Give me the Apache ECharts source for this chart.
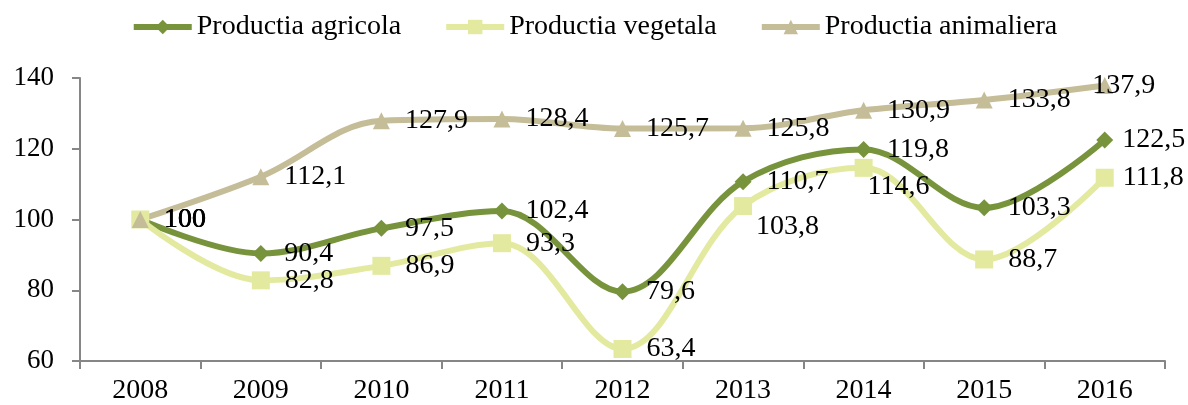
<!DOCTYPE html>
<html>
<head>
<meta charset="utf-8">
<script src="https://cdn.jsdelivr.net/npm/echarts@6/dist/echarts.min.js"></script>
<style>
  html, body { margin: 0; padding: 0; background: #fff; }
  #chart { width: 1188px; height: 405px; }
</style>
</head>
<body>
<div id="chart"></div>
<script>
const years = ['2008', '2009', '2010', '2011', '2012', '2013', '2014', '2015', '2016']
const agricola = [100, 90.4, 97.5, 102.4, 79.6, 110.7, 119.8, 103.3, 122.5]
const vegetala = [100, 82.8, 86.9, 93.3, 63.4, 103.8, 114.6, 88.7, 111.8]
const animaliera = [100, 112.1, 127.9, 128.4, 125.7, 125.8, 130.9, 133.8, 137.9]
const yTicks = { min: 60, max: 140, interval: 20 }

const fontFamily = '"Liberation Serif", "DejaVu Serif", serif'

// labels that Excel nudged away from the default "right" spot
const labelNudge = {
  'Productia agricola': { 8: [-6, 0] },
  'Productia vegetala': { 5: [-11, 21], 6: [-20, 19], 8: [-6, 0] },
  'Productia animaliera': { 8: [-36, 0] }
}

const fmt = p => String(p.value).replace('.', ',')

const makeSeries = (name, data, color, symbol, size) => ({
  name,
  type: 'line',
  data: data.map((v, i) => {
    const nudge = labelNudge[name][i]
    return nudge ? { value: v, label: { offset: nudge } } : v
  }),
  smooth: 0.35,
  symbol,
  symbolSize: size,
  lineStyle: { color, width: 6 },
  itemStyle: { color },
  label: {
    show: true,
    position: 'right',
    distance: 15,
    color: '#000',
    fontSize: 28,
    fontFamily,
    formatter: fmt
  }
})

const chart = echarts.init(document.getElementById('chart'))

chart.setOption({
  animation: false,
  textStyle: { fontFamily },
  legend: {
    top: 8,
    left: 'center',
    itemWidth: 58,
    itemHeight: 18,
    itemGap: 42,
    lineStyle: { width: 6 },
    textStyle: { fontSize: 28, color: '#000', fontFamily },
    data: ['Productia agricola', 'Productia vegetala', 'Productia animaliera']
  },
  grid: { left: 80, right: 23, top: 78, bottom: 43 },
  xAxis: {
    type: 'category',
    data: years,
    boundaryGap: true,
    axisLine: { lineStyle: { color: '#868686', width: 2 } },
    axisTick: { show: true, length: 8, lineStyle: { color: '#868686', width: 2 } },
    axisLabel: { color: '#000', fontSize: 28, margin: 16, fontFamily }
  },
  yAxis: {
    type: 'value',
    min: yTicks.min,
    max: yTicks.max,
    interval: yTicks.interval,
    splitLine: { show: false },
    axisLine: { show: true, lineStyle: { color: '#868686', width: 2 } },
    axisTick: { show: true, length: 8, lineStyle: { color: '#868686', width: 2 } },
    axisLabel: { color: '#000', fontSize: 27, margin: 26, fontFamily }
  },
  series: [
    makeSeries('Productia agricola', agricola, '#77933C', 'diamond', 17),
    makeSeries('Productia vegetala', vegetala, '#E3EA9F', 'rect', 18),
    makeSeries('Productia animaliera', animaliera, '#C4BD97', 'triangle', 17)
  ]
})
</script>
</body>
</html>
